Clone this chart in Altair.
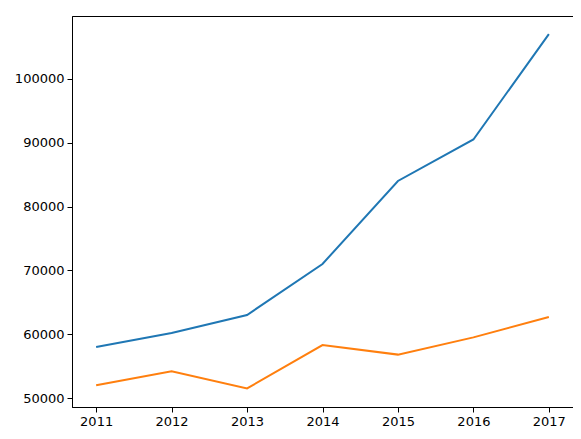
import altair as alt
import pandas as pd

years = [2011, 2012, 2013, 2014, 2015, 2016, 2017]
series_a = [58000, 60200, 63000, 71000, 84000, 90500, 107000]
series_b = [52000, 54200, 51500, 58300, 56800, 59500, 62700]

rows = []
for y, a, b in zip(years, series_a, series_b):
    rows.append({"year": y, "value": a, "series": "a"})
    rows.append({"year": y, "value": b, "series": "b"})
df = pd.DataFrame(rows)

font = "DejaVu Sans"

chart = alt.Chart(df).mark_line(strokeWidth=2).encode(
    x=alt.X("year:Q",
            scale=alt.Scale(domain=[2010.68, 2017.32], nice=False, zero=False),
            axis=alt.Axis(values=years, format="d", title=None, grid=False,
                          tickSize=5, tickColor="black", domainColor="black",
                          labelColor="black", labelFont=font, labelFontSize=13,
                          labelPadding=3, domainWidth=1, tickWidth=1)),
    y=alt.Y("value:Q",
            scale=alt.Scale(domain=[48594, 109844], nice=False, zero=False),
            axis=alt.Axis(values=[50000, 60000, 70000, 80000, 90000, 100000],
                          format="d", title=None, grid=False,
                          tickSize=5, tickColor="black", domainColor="black",
                          labelColor="black", labelFont=font, labelFontSize=13,
                          labelPadding=3, domainWidth=1, tickWidth=1)),
    color=alt.Color("series:N",
                    scale=alt.Scale(domain=["a", "b"], range=["#1f77b4", "#ff7f0e"]),
                    legend=None),
).properties(
    width=501,
    height=391,
    autosize=alt.AutoSizeParams(type="none"),
    padding={"left": 64, "top": 8, "right": 0, "bottom": 24},
).configure_view(
    stroke="black", strokeWidth=1
)

chart.save("out.html", embed_options={"renderer": "svg", "actions": False})
